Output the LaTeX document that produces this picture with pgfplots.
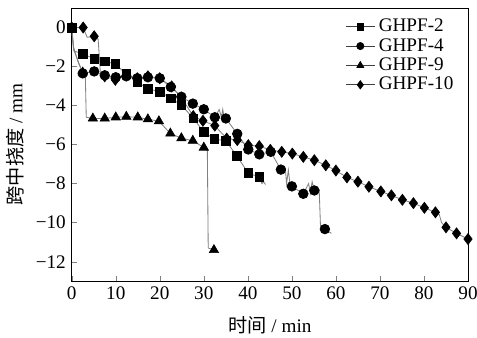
\documentclass[border=0pt]{standalone}
\usepackage{pgfplots}
\pgfplotsset{compat=1.18}
\usepackage{fontspec}
\setmainfont{Liberation Serif}
\newfontfamily\cjk{Noto Sans CJK SC}
\begin{document}
\begin{tikzpicture}
\begin{axis}[
  name=ax,
  scale only axis, width=237.6pt, height=163.8pt,
  xmin=0, xmax=90, ymin=-13, ymax=1,
  xtick={0,10,...,90}, ytick={0,-2,-4,-6,-8,-10,-12},
  yticklabels={0,−2,−4,−6,−8,−10,−12},
  tick align=inside, xtick pos=left, ytick pos=left,
  major tick length=3pt,
  /pgf/number format/assume math mode=true,
  tick label style={font=\fontsize{11.5}{13}\selectfont},
  label style={font=\fontsize{11.5}{13}\selectfont},
  xlabel={{\cjk 时间} / min},
  ylabel={{\cjk 跨中挠度} / mm},
  x label style={at={(axis description cs:0.5,-0.161)},anchor=center},
  y label style={at={(axis description cs:-0.143,0.5)},anchor=center},
  legend style={at={(axis description cs:0.985,0.985)}, anchor=north east, draw=none, fill=none,
    font=\fontsize{11.5}{13}\selectfont, row sep=-1.5pt},
  legend cell align=left,
  legend image code/.code={
    \draw[gray!50!black, line width=0.5pt, mark=none] (0cm,0cm) -- (0.62cm,0cm);
    \draw[mark repeat=2,mark phase=2, mark options={scale=0.75}] plot coordinates {(0cm,0cm)(0.31cm,0cm)(0.62cm,0cm)};
  },
]
% raw gray lines
\addplot[gray, line width=0.5pt, forget plot] coordinates {
(0,0)(0.5,-1.2)(2.6,-1.36)(5.1,-1.6)(7.5,-1.73)(9.9,-1.87)(12.4,-2.39)(14.9,-2.77)(17.3,-3.15)(20,-3.28)(22.5,-3.63)(24.9,-3.97)(27.6,-4.65)(30,-5.35)(32.4,-5.72)(35,-5.8)(37.5,-6.58)(40.1,-7.46)(42.6,-7.66)(43.2,-8.0)(43.6,-7.9)(44,-8.05)};
\addplot[gray, line width=0.5pt, forget plot] coordinates {
(0,0)(0.4,-1.1)(2.5,-2.35)(5.1,-2.25)(7.5,-2.45)(10,-2.55)(12.4,-2.5)(14.9,-2.6)(17.3,-2.55)(20,-2.6)(22.5,-3.05)(24.9,-3.55)(27.5,-3.9)(30,-4.19)(32.5,-4.6)(33.5,-4.2)(34,-4.6)(34.3,-4.2)(34.6,-4.6)(35,-4.66)(37.6,-5.45)(40.1,-6.25)(42.6,-6.5)(45.2,-6.37)(47.5,-7.28)(48.5,-7.2)(48.8,-8.0)(49.2,-7.3)(49.6,-8.1)(50,-8.14)(52.6,-8.52)(53.8,-8.0)(54.2,-8.5)(54.6,-7.9)(55.1,-8.35)(56.2,-8.3)(56.5,-10.2)(57.5,-10.33)(59,-10.55)};
\addplot[gray, line width=0.5pt, forget plot] coordinates {
(0,0)(0.4,-1.0)(1.5,-1.8)(2.5,-2.3)(3.1,-2.6)(3.3,-4.6)(4.8,-4.66)(7.5,-4.66)(10,-4.6)(12.4,-4.57)(15,-4.6)(17.3,-4.7)(19.8,-4.8)(22.4,-5.43)(24.9,-5.67)(27.5,-5.8)(30,-6.15)(30.8,-6.3)(31,-11.3)(32.3,-11.4)};
\addplot[gray, line width=0.5pt, forget plot] coordinates {
(0,0)(2.6,0)(3.5,-0.5)(5.1,-0.45)(6,-0.6)(6.5,-2.3)(7.5,-2.5)(9.9,-2.68)(12.4,-2.45)(14.9,-2.6)(17.3,-2.5)(20,-2.6)(22.7,-3.02)(24.9,-3.59)(27.6,-4.54)(29.8,-4.78)(32.5,-5.03)(35.2,-5.69)(37.6,-5.77)(40.1,-6.03)(42.6,-6.08)(45.1,-6.27)(47.7,-6.37)(50.1,-6.46)(52.6,-6.63)(55.1,-6.8)(57.7,-7.06)(60,-7.33)(62.5,-7.68)(65,-7.9)(67.5,-8.16)(70.2,-8.4)(72.6,-8.6)(75.1,-8.83)(77.6,-9.0)(80.1,-9.24)(82.6,-9.47)(83.5,-9.6)(84,-10.0)(85,-10.24)(87.4,-10.55)(90,-10.84)};
% markers
\addplot[only marks, mark=square*, mark size=2.6pt, black] coordinates {
(0,0)(2.6,-1.36)(5.1,-1.6)(7.5,-1.73)(9.9,-1.87)(12.4,-2.39)(14.9,-2.77)(17.3,-3.15)(20,-3.28)(22.5,-3.63)(24.9,-3.97)(27.6,-4.65)(30,-5.35)(32.4,-5.72)(35,-5.8)(37.5,-6.58)(40.1,-7.46)(42.6,-7.66)};
\addlegendentry{GHPF-2}
\addplot[only marks, mark=*, mark size=2.9pt, black] coordinates {
(2.5,-2.35)(5.1,-2.25)(7.5,-2.45)(10,-2.55)(12.4,-2.5)(14.9,-2.6)(17.3,-2.55)(20,-2.6)(22.5,-3.05)(24.9,-3.55)(27.5,-3.9)(30,-4.19)(32.5,-4.6)(35,-4.66)(37.6,-5.45)(40.1,-6.25)(42.6,-6.5)(45.2,-6.37)(47.5,-7.28)(50,-8.14)(52.6,-8.52)(55.1,-8.35)(57.5,-10.33)};
\addlegendentry{GHPF-4}
\addplot[only marks, mark=triangle*, mark size=3.2pt, black] coordinates {
(2.5,-2.3)(4.8,-4.66)(7.5,-4.66)(10,-4.6)(12.4,-4.57)(15,-4.6)(17.3,-4.7)(19.8,-4.8)(22.4,-5.43)(24.9,-5.67)(27.5,-5.8)(30,-6.15)(32.3,-11.4)};
\addlegendentry{GHPF-9}
\addplot[only marks, mark=diamond*, mark size=3.3pt, black] coordinates {
(0,0)(2.6,0)(5.1,-0.45)(7.5,-2.5)(9.9,-2.68)(12.4,-2.45)(14.9,-2.6)(17.3,-2.5)(20,-2.6)(22.7,-3.02)(24.9,-3.59)(27.6,-4.54)(29.8,-4.78)(32.5,-5.03)(35.2,-5.69)(37.6,-5.77)(40.1,-6.03)(42.6,-6.08)(45.1,-6.27)(47.7,-6.37)(50.1,-6.46)(52.6,-6.63)(55.1,-6.8)(57.7,-7.06)(60,-7.33)(62.5,-7.68)(65,-7.9)(67.5,-8.16)(70.2,-8.4)(72.6,-8.6)(75.1,-8.83)(77.6,-9.0)(80.1,-9.24)(82.6,-9.47)(85,-10.24)(87.4,-10.55)(90,-10.84)};
\addlegendentry{GHPF-10}
\end{axis}
\pgfresetboundingbox
\path ([xshift=-43pt,yshift=-33.6pt]ax.south west) rectangle ([xshift=5.4pt,yshift=4.8pt]ax.north east);
\end{tikzpicture}
\end{document}
